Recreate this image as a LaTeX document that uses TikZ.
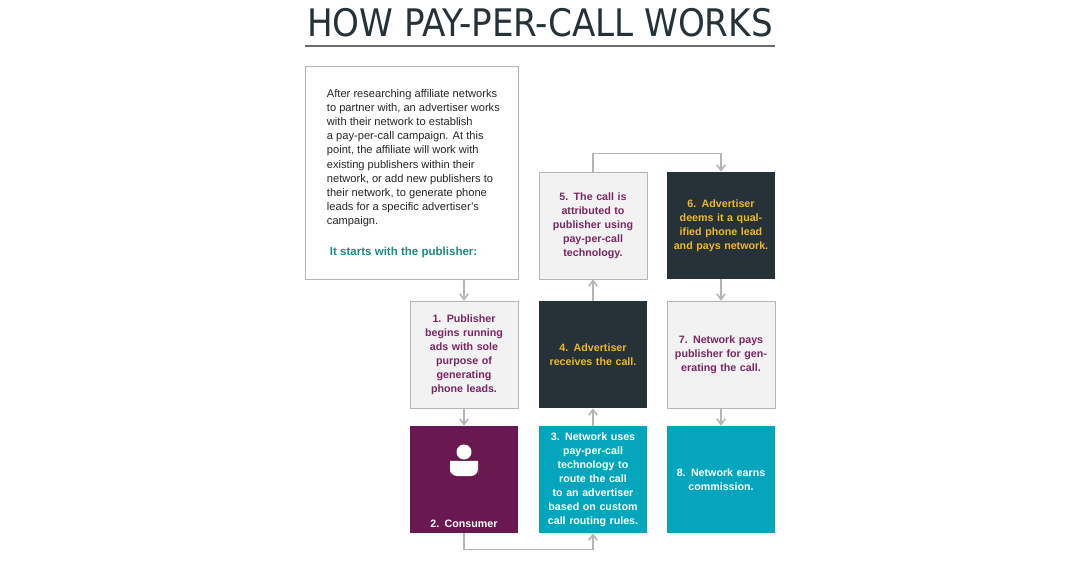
\documentclass[tikz,border=0pt]{standalone}
\usepackage{fontspec}
\setmainfont{Liberation Sans}
\newfontfamily\titlefont{DejaVu Sans Condensed}
\usetikzlibrary{arrows.meta,positioning}
\definecolor{ppcplum}{HTML}{6A1850}
\definecolor{ppcplumtext}{HTML}{7A2763}
\definecolor{ppcteal}{HTML}{03A6BD}
\definecolor{ppcdark}{HTML}{263238}
\definecolor{ppcgold}{HTML}{EDB92C}
\definecolor{ppcgreen}{HTML}{1E8A80}
\definecolor{ppcgray}{HTML}{F2F2F2}
\definecolor{ppcedge}{HTML}{B5B5B5}
\tikzset{
  stepcell/.style={minimum width=2.7cm, minimum height=2.675cm, inner sep=2pt,
    align=center, text width=2.4cm, font=\bfseries\fontsize{7.6}{10}\selectfont},
  lightcell/.style={stepcell, fill=ppcgray, draw=ppcedge, text=ppcplumtext},
  darkcell/.style={stepcell, fill=ppcdark, text=ppcgold},
  tealcell/.style={stepcell, fill=ppcteal, text=white},
  plumcell/.style={stepcell, fill=ppcplum, text=white},
  flow/.style={-{Straight Barb[length=4pt,width=6pt]}, ppcedge, line width=1.1pt}
}
\begin{document}
\begin{tikzpicture}[x=0.025cm, y=-0.025cm]
  \useasboundingbox[fill=white] (0,0) rectangle (1080,561);
  % Title
  \node[font=\titlefont\fontsize{27}{30}\selectfont, text=ppcdark, anchor=base] (title) at (540,36) {HOW PAY-PER-CALL WORKS};
  \draw[ppcedge!60!black, line width=0.8pt] (305,46) -- (775,46);

  % Intro box
  \node[draw=ppcedge, fill=white, minimum width=5.325cm, minimum height=5.325cm, anchor=north west] (intro) at (305,66) {};
  \node[anchor=north west, align=left, font=\fontsize{7.9}{10.1}\selectfont, text=black!85] (introtext) at (322,84)
    {After researching affiliate networks\\to partner with, an advertiser works\\with their network to establish\\a pay-per-call campaign. At this\\point, the affiliate will work with\\existing publishers within their\\network, or add new publishers to\\their network, to generate phone\\leads for a specific advertiser's\\campaign.};
  \node[anchor=west, font=\bfseries\fontsize{8.2}{10}\selectfont, text=ppcgreen] (starts) at (325,253) {It starts with the publisher:};

  % Steps
  \node[lightcell] (s5) at (593,225.5) {5. The call is attributed to publisher using pay-per-call technology.};
  \node[darkcell]  (s6) at (721,225.5) {6. Advertiser deems it a qualified phone lead and pays network.};
  \node[lightcell] (s1) at (464,354.5) {1. Publisher begins running ads with sole purpose of generating phone leads.};
  \node[darkcell]  (s4) at (593,354.5) {4. Advertiser receives the call.};
  \node[lightcell] (s7) at (721,354.5) {7. Network pays publisher for generating the call.};
  \node[plumcell, text depth=0pt] (s2) at (464,479.5) {\\[3.2em]2. Consumer responds to ad and places a call.};
  \node[tealcell]  (s3) at (593,479.5) {3. Network uses pay-per-call technology to route the call to an advertiser based on custom call routing rules.};
  \node[tealcell]  (s8) at (721,479.5) {8. Network earns commission.};

  % Person icon
  \fill[white] (464,452) circle (7.5);
  \fill[white, rounded corners=5pt] (450,476) -- (450,468) .. controls (450,461) and (478,461) .. (478,468) -- (478,476) -- cycle;

  % Connectors
  \draw[flow] (intro.south -| s1) -- (s1.north);
  \draw[flow] (s1) -- (s2);
  \draw[flow] (s2.south) -- ++(0,16) -| (s3.south);
  \draw[flow] (s3) -- (s4);
  \draw[flow] (s4) -- (s5);
  \draw[flow] (s5.north) -- ++(0,-18) -| (s6.north);
  \draw[flow] (s6) -- (s7);
  \draw[flow] (s7) -- (s8);
\end{tikzpicture}
\end{document}
